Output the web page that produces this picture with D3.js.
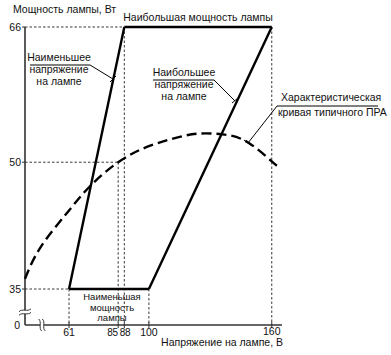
<!DOCTYPE html>
<html><head><meta charset="utf-8">
<script src="https://cdn.jsdelivr.net/npm/d3@7"></script>
<style>
body{margin:0;background:#fff;}
text{font-family:"Liberation Sans",Arial,sans-serif;fill:#111;}
</style></head>
<body>
<svg id="c" width="391" height="355"></svg>
<script>
// ---- data ----
const xTicks = [61, 85, 88, 100, 160];
const yTicks = [35, 50, 66];
const maxPowerLine = [[88, 66], [160, 66]];
const minPowerLine = [[61, 35], [100, 35]];
const minVoltageLine = [[61, 35], [88, 66]];
const maxVoltageLine = [[100, 35], [160, 66]];
const ballastCurve = [[39.5,36.2],[47,39.9],[60,44.0],[71,47.1],[85,50.0],[100,51.9],[115,53.0],[125,53.4],[136,53.3],[148,52.4],[160,50.1],[164,49.3]];
const guideH = [[35, 61], [50, 85], [66, 88]];     // [power, voltage]
const guideV = [[61, 35], [85, 50], [88, 66], [100, 35], [160, 66]];
const labels = {
  yTitle: "Мощность лампы, Вт",
  xTitle: "Напряжение на лампе, В",
  maxPower: "Наибольшая мощность лампы",
  minVolt: ["Наименьшее", "напряжение", "на лампе"],
  maxVolt: ["Наибольшее", "напряжение", "на лампе"],
  curve: ["Характеристическая", "кривая типичного ПРА"],
  minPower: ["Наименьшая", "мощность", "лампы"]
};

// ---- layout ----
const svg = d3.select("#c");
const x = d3.scaleLinear().domain([39.5, 165]).range([25, 282]);
const y = d3.scaleLinear().domain([35, 66]).range([289, 27]);
const axisY0 = 325;   // zero line (broken axis)
const fs = 10.5;

const line = d3.line().x(d => x(d[0])).y(d => y(d[1]));

// guides (thin dashed)
const g = svg.append("g").attr("stroke", "#222").attr("stroke-width", 0.9).attr("stroke-dasharray", "2.5,2");
guideH.forEach(d => g.append("line").attr("x1", x(39.5)).attr("x2", x(d[1])).attr("y1", y(d[0])).attr("y2", y(d[0])));
guideV.forEach(d => g.append("line").attr("x1", x(d[0])).attr("x2", x(d[0])).attr("y1", y(d[1])).attr("y2", axisY0));

// axes
const ax = svg.append("g").attr("stroke", "#333").attr("stroke-width", 1.6).attr("fill", "none");
ax.append("line").attr("x1", x(39.5)).attr("x2", x(39.5)).attr("y1", y(66)).attr("y2", axisY0);
ax.append("line").attr("x1", x(39.5)).attr("x2", x(165)).attr("y1", axisY0).attr("y2", axisY0);
xTicks.forEach(v => ax.append("line").attr("stroke-width", 1).attr("x1", x(v)).attr("x2", x(v)).attr("y1", axisY0 - 3).attr("y2", axisY0 + 3));
yTicks.forEach(v => ax.append("line").attr("stroke-width", 1).attr("x1", x(39.5) - 3).attr("x2", x(39.5)).attr("y1", y(v)).attr("y2", y(v)));

// axis breaks
function brk(cx, cy, vertical) {
  const gb = svg.append("g").attr("transform", `translate(${cx},${cy})` + (vertical ? " rotate(90)" : ""));
  gb.append("rect").attr("x", -2).attr("y", -6).attr("width", 4).attr("height", 12).attr("fill", "#fff");
  [-1.8, 1.8].forEach(o => gb.append("path")
    .attr("d", `M${o - 1.5},-6 C${o + 2},-3 ${o - 2},3 ${o + 1.5},6`)
    .attr("fill", "none").attr("stroke", "#333").attr("stroke-width", 1));
}
brk(x(39.5), 312, true);
brk(42, axisY0, false);

// tick labels
const tl = svg.append("g").attr("font-size", fs);
const tickAnchor = {85: "end", 88: "start"};
const tickShift = {85: -0.5, 88: -4.5};
xTicks.forEach(v => tl.append("text")
  .attr("x", x(v) + (tickShift[v] || 0)).attr("y", axisY0 + (v === 160 ? 10 : 11))
  .attr("font-size", (v === 85 || v === 88) ? 10 : fs)
  .attr("letter-spacing", (v === 85 || v === 88) ? -0.4 : 0)
  .attr("text-anchor", tickAnchor[v] || "middle").text(v));
yTicks.forEach(v => tl.append("text").attr("x", x(39.5) - 4).attr("y", y(v) + 4).attr("text-anchor", "end").text(v));
tl.append("text").attr("x", x(39.5) - 5).attr("y", axisY0 + 4).attr("text-anchor", "end").text("0");

// titles
svg.append("text").attr("x", 13).attr("y", 13).attr("font-size", fs).text(labels.yTitle);
svg.append("text").attr("x", 283).attr("y", 346).attr("font-size", fs).attr("text-anchor", "end").text(labels.xTitle);

// main solid lines
const m = svg.append("g").attr("fill", "none").attr("stroke", "#000").attr("stroke-width", 2.4);
[maxPowerLine, minPowerLine, minVoltageLine, maxVoltageLine].forEach(d => m.append("path").attr("d", line(d)));

// ballast curve
svg.append("path").attr("d", d3.line().curve(d3.curveNatural).x(d => x(d[0])).y(d => y(d[1]))(ballastCurve))
  .attr("fill", "none").attr("stroke", "#000").attr("stroke-width", 2.4).attr("stroke-dasharray", "10,5");

// annotations
const an = svg.append("g").attr("font-size", fs);
an.append("text").attr("x", x(124)).attr("y", y(66) - 6).attr("text-anchor", "middle").text(labels.maxPower);

function block(lines, cx, cy, dy, size) {
  lines.forEach((t, i) => an.append("text").attr("x", cx).attr("y", cy + i * dy)
    .attr("font-size", size || fs).attr("text-anchor", "middle").text(t));
}
const lk = svg.append("g").attr("fill", "none").attr("stroke", "#000").attr("stroke-width", 1);
function leader(pts, tick) {
  lk.append("path").attr("d", d3.line()(pts));
  if (tick) lk.append("path").attr("d", d3.line()(tick));
}
block(labels.minVolt, 59, 61, 12);
leader([[30, 65], [90, 65], [113, 79]], [[110, 82], [116, 76]]);
block(labels.maxVolt, 184, 76, 12);
leader([[153, 80], [214, 80], [235, 101]], [[232, 103], [238, 98]]);
an.append("text").attr("x", 281).attr("y", 101).text(labels.curve[0]);
an.append("text").attr("x", 278).attr("y", 116).text(labels.curve[1]);
leader([[378, 106], [277, 106], [248, 143]], [[244, 140], [252, 146]]);
block(labels.minPower, 112, 300, 10.5, 9.5);
</script>
</body></html>
